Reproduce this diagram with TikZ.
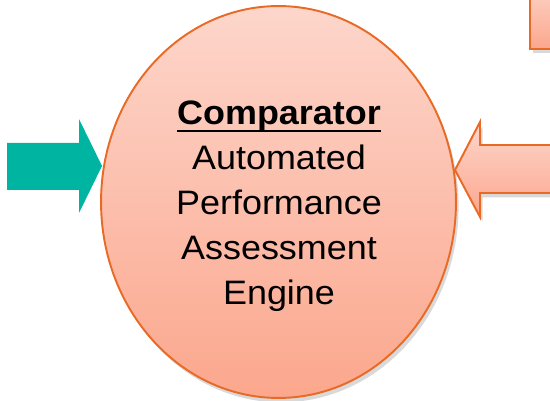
\documentclass[tikz,border=0pt]{standalone}
\usepackage{fontspec}
\setmainfont{Liberation Sans}[FakeStretch=1.06]
\usetikzlibrary{positioning, shapes.geometric, shadows}

\definecolor{peachtop}{HTML}{FDD6CB}
\definecolor{peachbot}{HTML}{FBA78D}
\definecolor{rimorange}{HTML}{E96A24}
\definecolor{inteal}{HTML}{00B4A2}

\newsavebox{\ulbox}
\newcommand{\ulword}[1]{\sbox{\ulbox}{#1}\rlap{\usebox{\ulbox}}\rule[-4.4pt]{\wd\ulbox}{1.1pt}}

\begin{document}
\begin{tikzpicture}[x=0.02cm, y=-0.02cm,
  peach/.style={top color=peachtop, bottom color=peachbot, draw=rimorange, line width=1.1pt},
  softshadow/.style={drop shadow={opacity=0.25, shadow xshift=1.5pt, shadow yshift=-2.5pt, fill=black!60}}]

\clip (0,0) rectangle (550,401);

% the engine
\node[peach, ellipse, minimum width=7.1cm, minimum height=7.84cm, inner sep=0pt, softshadow] (engine) at (278.5,202) {};
\node[font=\fontsize{19.3pt}{25.7pt}\selectfont, align=center] (enginetext) at (279,206)
  {\ulword{\textbf{Comparator}}\\Automated\\Performance\\Assessment\\Engine};

% input from the left
\coordinate (tealtip) at (102,166);
\fill[inteal] (tealtip) -- (79,119) -- (79,143) -- (7,143) -- (7,190) -- (79,190) -- (79,213) -- cycle;

% input from the right
\coordinate (peachtip) at (455,170);
\draw[peach, softshadow] (peachtip) -- (480,122) -- (480,145) -- (570,145) -- (570,193) -- (480,193) -- (480,217) -- cycle;

% box at the top right
\draw[peach, softshadow] (530,-20) rectangle (570,49);
\end{tikzpicture}
\end{document}
